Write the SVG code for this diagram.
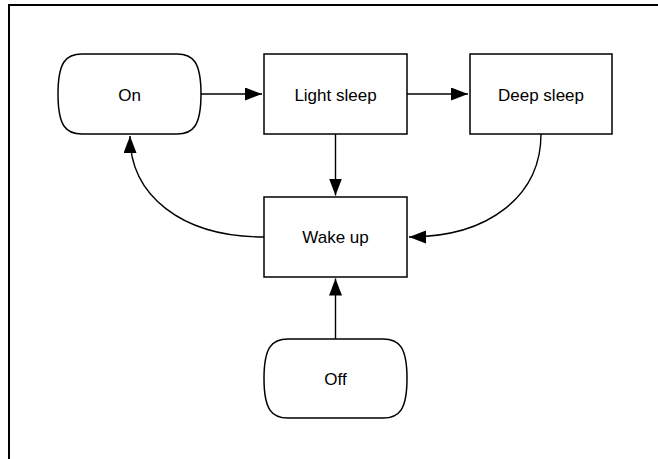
<svg xmlns="http://www.w3.org/2000/svg" width="658" height="459" viewBox="0 0 658 459">
<style>
.shape{fill:#fff;stroke:#000;stroke-width:1.5}
.lbl{font-family:"Liberation Sans",Arial,sans-serif;font-size:17px;fill:#000;text-anchor:middle}
.edge{fill:none;stroke:#000;stroke-width:1.4}
</style>
<defs>
<marker id="arr" markerUnits="userSpaceOnUse" markerWidth="18" markerHeight="14" refX="17" refY="6.5" orient="auto">
<path d="M0,0 L17,6.5 L0,13 z" fill="#000"/>
</marker>
</defs>
<rect x="9" y="5" width="700" height="500" fill="#fff" stroke="#000" stroke-width="2"/>
<g id="edges">
<path class="edge" d="M201,94 L262,94" marker-end="url(#arr)"/>
<path class="edge" d="M407,94 L468,94" marker-end="url(#arr)"/>
<path class="edge" d="M335.5,134 L335.5,195.5" marker-end="url(#arr)"/>
<path class="edge" d="M541,134 C541,195 490,237 409,237" marker-end="url(#arr)"/>
<path class="edge" d="M264,237 C181,237 130,195 130,136" marker-end="url(#arr)"/>
<path class="edge" d="M335.5,339 L335.5,278.5" marker-end="url(#arr)"/>
</g>
<g id="on">
<path class="shape" d="M82,54 L177,54 C193,54 201,62 201,94 C201,126 193,134 177,134 L82,134 C66,134 58,126 58,94 C58,62 66,54 82,54 Z"/>
<text class="lbl" x="129.5" y="101">On</text>
</g>
<g id="light-sleep">
<rect class="shape" x="264" y="54" width="143" height="80"/>
<text class="lbl" x="335.5" y="101">Light sleep</text>
</g>
<g id="deep-sleep">
<rect class="shape" x="470" y="54" width="142" height="80"/>
<text class="lbl" x="541" y="101">Deep sleep</text>
</g>
<g id="wake-up">
<rect class="shape" x="264" y="197" width="143" height="80"/>
<text class="lbl" x="335.5" y="243">Wake up</text>
</g>
<g id="off">
<path class="shape" d="M288,339 L383,339 C399,339 407,347 407,378.5 C407,410 399,418 383,418 L288,418 C272,418 264,410 264,378.5 C264,347 272,339 288,339 Z"/>
<text class="lbl" x="335.5" y="385">Off</text>
</g>
</svg>
